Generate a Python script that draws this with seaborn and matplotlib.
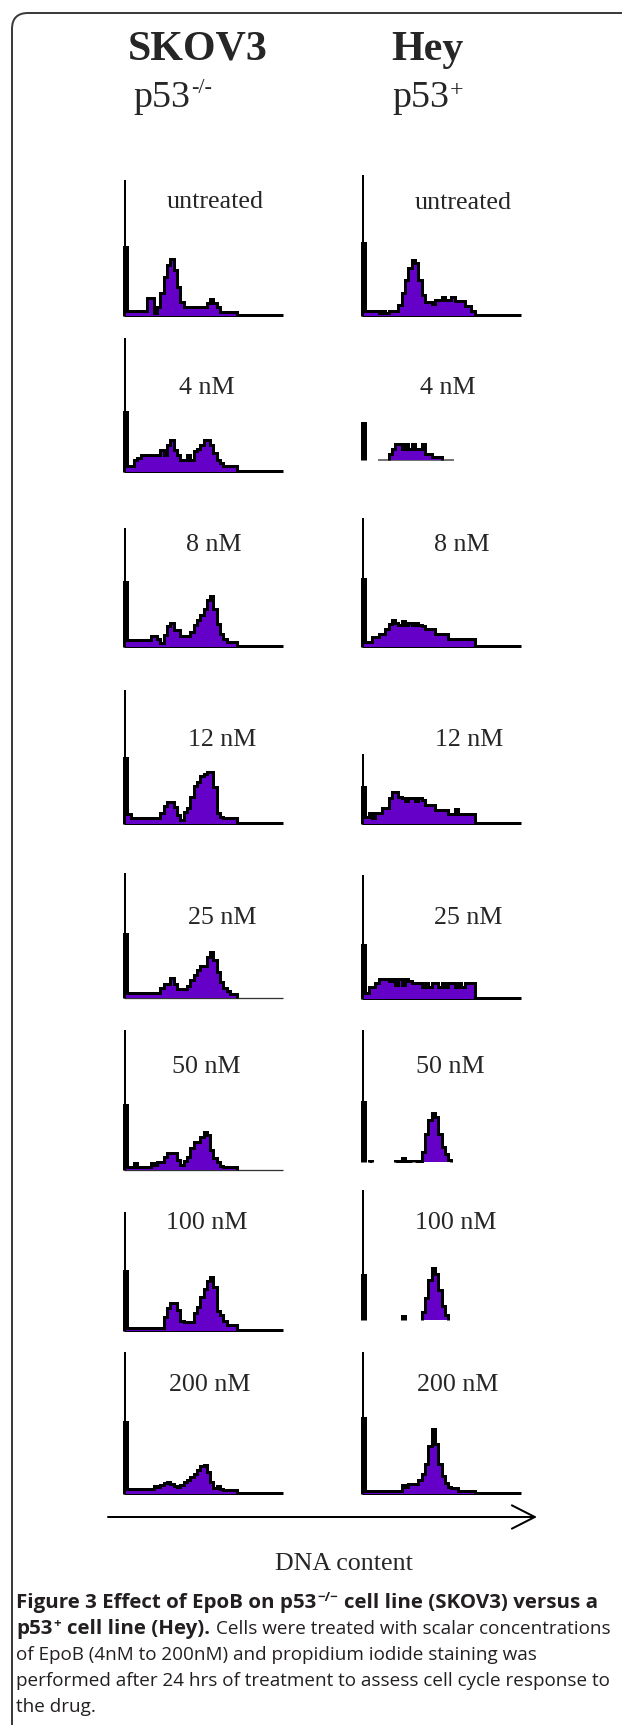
import numpy as np
import pandas as pd
import matplotlib
matplotlib.use("Agg")
import matplotlib.pyplot as plt
from matplotlib.patches import FancyBboxPatch
import seaborn as sns

# ---- data: DNA histogram counts per channel bin (bin 0 = debris spike) ----
doses = ["untreated", "4 nM", "8 nM", "12 nM", "25 nM", "50 nM", "100 nM", "200 nM"]

skov3_untreated = [69, 5, 5, 5, 5, 5, 5, 18, 18, 3, 9, 23, 39, 51, 57, 46, 29, 14,
                   9, 9, 9, 9, 9, 9, 9, 13, 17, 13, 9, 4, 4, 4, 4, 4]
skov3_4nm = [60, 6, 6, 12, 14, 17, 17, 17, 17, 17, 17, 22, 17, 27, 32, 22, 17, 12,
             12, 17, 12, 21, 23, 27, 32, 32, 27, 19, 12, 9, 6, 6, 6, 6]
skov3_8nm = [65, 7, 7, 7, 7, 7, 7, 7, 11, 11, 8, 4, 12, 21, 24, 17, 17, 11, 11, 11,
             15, 22, 27, 32, 38, 47, 51, 38, 23, 13, 8, 5, 5, 5]
skov3_12nm = [66, 10, 6, 6, 6, 6, 6, 6, 6, 6, 6, 11, 18, 22, 22, 17, 9, 4, 12, 16,
              27, 38, 42, 48, 50, 52, 52, 37, 11, 7, 6, 6, 6, 6]
skov3_25nm = [64, 5, 5, 5, 5, 5, 5, 5, 5, 5, 5, 10, 14, 14, 20, 14, 9, 9, 9, 12,
              18, 23, 28, 32, 32, 41, 46, 38, 26, 16, 10, 7, 4, 4]
skov3_50nm = [65, 3, 3, 7, 3, 3, 3, 3, 7, 5, 8, 8, 13, 17, 17, 17, 10, 5, 9, 13,
              22, 28, 28, 33, 38, 35, 20, 12, 8, 4, 3, 3, 3, 3]
skov3_100nm = [60, 3, 3, 3, 3, 3, 3, 3, 3, 3, 3, 3, 14, 23, 28, 28, 21, 10, 9, 9,
               9, 18, 24, 34, 42, 50, 54, 44, 20, 16, 10, 6, 6, 6]
skov3_200nm = [72, 5, 5, 5, 5, 5, 5, 5, 5, 8, 7, 9, 11, 12, 10, 8, 7, 9, 12, 14,
               17, 20, 24, 28, 29, 22, 12, 6, 8, 5, 4, 4, 4, 4]

hey_untreated = [73, 5, 5, 5, 5, 3, 5, 3, 5, 5, 5, 11, 23, 36, 48, 56, 53, 36, 21,
                 14, 14, 12, 16, 16, 19, 16, 16, 19, 15, 15, 15, 10, 10, 5]
hey_4nm = [37, 0, 0, 0, 0, 0, 0, 0, 6, 11, 16, 16, 11, 16, 11, 16, 11, 11, 16, 6,
           6, 3, 3, 3]
hey_8nm = [68, 5, 5, 10, 10, 13, 13, 18, 23, 27, 24, 22, 26, 22, 24, 22, 24, 22, 21,
           18, 18, 18, 13, 13, 13, 13, 8, 8, 8, 8, 8, 8, 8, 8]
hey_12nm = [37, 7, 11, 6, 11, 11, 16, 16, 26, 32, 32, 27, 26, 23, 26, 26, 23, 26, 24,
            19, 19, 19, 14, 14, 14, 14, 10, 10, 15, 10, 10, 10, 10, 10]
hey_25nm = [54, 6, 12, 12, 16, 20, 20, 20, 18, 20, 14, 20, 14, 20, 18, 16, 16, 16,
            12, 16, 12, 16, 16, 12, 16, 12, 16, 16, 12, 16, 12, 16, 16, 16]
hey_50nm = [60, 0, 1, 0, 0, 0, 0, 0, 0, 0, 1, 1, 4, 1, 1, 0, 1, 1, 10, 28, 42, 49,
            45, 28, 15, 8, 2]
hey_100nm = [45, 0, 0, 0, 0, 0, 0, 0, 0, 0, 0, 0, 4, 0, 0, 0, 0, 0, 8, 22, 40, 52,
             46, 30, 14, 5]
hey_200nm = [76, 3, 3, 3, 3, 3, 3, 3, 3, 3, 3, 3, 9, 7, 10, 10, 10, 14, 20, 30, 48,
             65, 50, 30, 18, 11, 7, 6, 6, 3, 3, 3, 3, 3]

skov3_counts = [skov3_untreated, skov3_4nm, skov3_8nm, skov3_12nm,
                skov3_25nm, skov3_50nm, skov3_100nm, skov3_200nm]
hey_counts = [hey_untreated, hey_4nm, hey_8nm, hey_12nm,
              hey_25nm, hey_50nm, hey_100nm, hey_200nm]

caption_bold_1 = "Figure 3 Effect of EpoB on p53"
caption_bold_2 = "cell line (SKOV3) versus a"
caption_bold_3 = "cell line (Hey)."
caption_lines = ["Cells were treated with scalar concentrations",
                 "of EpoB (4nM to 200nM) and propidium iodide staining was",
                 "performed after 24 hrs of treatment to assess cell cycle response to",
                 "the drug."]

# ---- layout (pixels) ----
W, H = 622, 1725
N_BINS = 48
PANEL_W = 159
col_x = {"left": 124, "right": 362}
baseline_y = {"left": [316, 472, 647, 824, 998, 1170, 1331, 1494],
              "right": [316, 460, 647, 824, 999, 1162, 1320, 1494]}
axis_top = {"left": [180, 338, 528, 690, 873, 1030, 1212, 1352],
            "right": [175, 423, 518, 754, 875, 1030, 1190, 1352]}
label_xy = {"left": [(215, 202), (207, 388), (214, 545), (222, 740),
                     (222, 918), (206, 1067), (207, 1223), (210, 1385)],
            "right": [(463, 203), (448, 388), (462, 545), (469, 740),
                      (468, 918), (450, 1067), (456, 1223), (458, 1385)]}
# baseline (x0, x1, width px, colour) or None
THICK = (0, N_BINS, 3, "black")
baseline_style = {"left": [THICK, THICK, THICK, THICK, (0, N_BINS, 1.3, "#333333"),
                           (0, N_BINS, 1.3, "#333333"), THICK, THICK],
                  "right": [THICK, (4.7, 27.7, 1.6, "#555555"), THICK, THICK, THICK,
                            None, None, THICK]}
draw_axis = {"left": [True] * 8,
             "right": [True, False, True, True, True, True, True, True]}

PURPLE = "#6400c8"
TEXT_DARK = "#231f20"

sns.set_theme(style="white")
plt.rcParams["font.family"] = ["Liberation Serif", "DejaVu Serif"]


def px(v):
    return v * 72 / 100  # pixels -> points at dpi 100


def step_outline(counts):
    xs, ys = [], []
    inside = False
    for i, c in enumerate(counts):
        if c > 0:
            if not inside:
                xs += [i]
                ys += [0]
                inside = True
            xs += [i, i + 1]
            ys += [c, c]
        elif inside:
            xs += [i, np.nan]
            ys += [0, np.nan]
            inside = False
    if inside:
        xs += [len(counts)]
        ys += [0]
    return xs, ys


fig = plt.figure(figsize=(W / 100, H / 100), dpi=100)
renderer = fig.canvas.get_renderer()

# full-figure canvas in pixel coordinates for text, border and arrow
canvas = fig.add_axes([0, 0, 1, 1])
canvas.set_xlim(0, W)
canvas.set_ylim(H, 0)
canvas.set_axis_off()

canvas.add_patch(FancyBboxPatch((12, 13), 700, 1850,
                                boxstyle="round,pad=0,rounding_size=16",
                                fill=False, ec="#3c3c3c", lw=px(2)))


def text_run(x, y, segments, **kw):
    """Draw (text, size_px, weight, rise_px, gap_px) pieces left to right."""
    for txt, size, weight, rise, gap in segments:
        x += gap
        t = canvas.text(x, y - rise, txt, ha="left", va="baseline",
                        fontsize=px(size), fontweight=weight, **kw)
        x = t.get_window_extent(renderer=renderer).x1
    return x


def fit_size(txt, target_w, weight, **kw):
    t = canvas.text(0, 0, txt, fontsize=px(20), fontweight=weight, **kw)
    w = t.get_window_extent(renderer=renderer).width
    t.remove()
    return 20 * target_w / w


def draw_panel(side, row, counts):
    base = baseline_y[side][row]
    top = axis_top[side][row]
    h = base - top
    ax = fig.add_axes([col_x[side] / W, 1 - base / H, PANEL_W / W, h / H])
    vals = np.zeros(N_BINS)
    vals[:len(counts)] = counts
    hist = pd.DataFrame({"channel": np.arange(N_BINS) + 0.5, "count": vals})
    bstyle = baseline_style[side][row]
    if bstyle is not None:
        x0, x1, lw, col = bstyle
        ax.plot([x0, x1], [lw / 2 - 0.5, lw / 2 - 0.5], color=col, lw=px(lw),
                solid_capstyle="butt", clip_on=False, zorder=1)
    sns.histplot(data=hist, x="channel", weights="count", binwidth=1,
                 binrange=(0, N_BINS), element="step", fill=True,
                 color=PURPLE, alpha=1, linewidth=0, ax=ax, zorder=2)
    xs, ys = step_outline(vals)
    ax.plot(xs, ys, color="black", lw=px(3), solid_joinstyle="miter",
            solid_capstyle="butt", clip_on=False, zorder=3)
    if draw_axis[side][row]:
        ax.plot([0.2, 0.2], [0, h], color="black", lw=px(2),
                solid_capstyle="butt", clip_on=False, zorder=3)
    ax.set_xlim(0, N_BINS)
    ax.set_ylim(0, h)
    ax.set_axis_off()
    lx, ly = label_xy[side][row]
    canvas.text(lx, ly, doses[row], ha="center", va="center", fontsize=px(26))


for r in range(len(doses)):
    draw_panel("left", r, skov3_counts[r])
    draw_panel("right", r, hey_counts[r])

# column headers
canvas.text(198, 60, "SKOV3", ha="center", va="baseline", fontsize=px(42),
            fontweight="bold")
canvas.text(427, 60, "Hey", ha="center", va="baseline", fontsize=px(42),
            fontweight="bold")
text_run(133, 107, [("p53", 38, "normal", 0, 0), ("-/-", 22, "normal", 14, 1)])
text_run(392, 107, [("p53", 38, "normal", 0, 0), ("+", 24, "normal", 11, 1)])

# DNA content axis arrow
canvas.annotate("", xy=(537, 1517), xytext=(108, 1517),
                arrowprops=dict(arrowstyle="->,head_length=0.55,head_width=0.28",
                                lw=px(2), color="black", shrinkA=0, shrinkB=0,
                                mutation_scale=30))
canvas.text(344, 1564, "DNA content", ha="center", va="center", fontsize=px(26))

# caption: sizes chosen so the widest lines span the text column
cap_kw = dict(family=["Open Sans", "DejaVu Sans"], color=TEXT_DARK)
BS = fit_size(caption_bold_1 + "\u2212/\u2212 " + caption_bold_2, 590, "bold", **cap_kw)
RS = fit_size(caption_lines[2], 596, "normal", **cap_kw)
SS = 0.65 * BS
cap_y = [1608, 1634, 1660, 1686, 1712]
text_run(16, cap_y[0], [(caption_bold_1, BS, "bold", 0, 0),
                        ("\u2212/\u2212", SS, "bold", 7, 1),
                        (caption_bold_2, BS, "bold", 0, 6)], **cap_kw)
text_run(16, cap_y[1], [("p53", BS, "bold", 0, 0),
                        ("+", SS, "bold", 7, 1),
                        (caption_bold_3, BS, "bold", 0, 6),
                        (caption_lines[0], RS, "normal", 0, 6)], **cap_kw)
for k, line in enumerate(caption_lines[1:]):
    text_run(16, cap_y[k + 2], [(line, RS, "normal", 0, 0)], **cap_kw)

fig.savefig("out.png", dpi=100)
plt.close(fig)
